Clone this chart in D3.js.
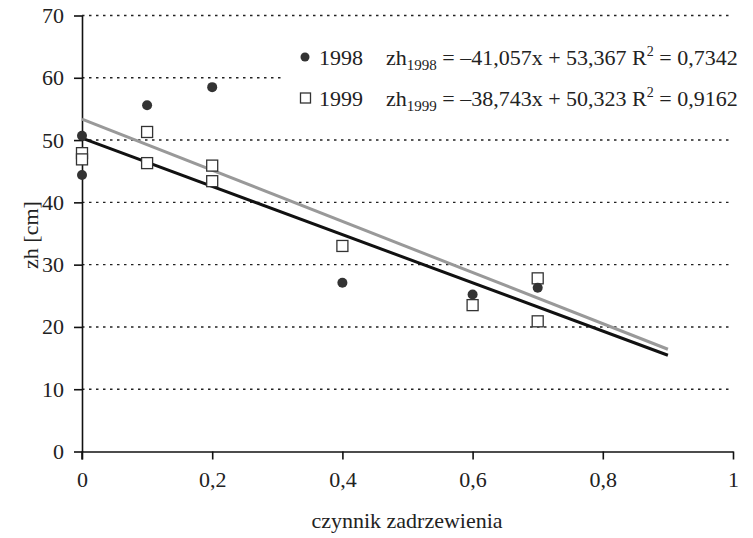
<!DOCTYPE html>
<html>
<head>
<meta charset="utf-8">
<script src="https://cdn.jsdelivr.net/npm/d3@7"></script>
<style>
  body { margin: 0; background: #fff; }
  svg text { font-family: "Liberation Serif", "Times New Roman", "DejaVu Serif", serif; }
</style>
</head>
<body>
<svg id="chart" width="753" height="538"></svg>
<script>
// points for 1998 (filled circles)
const x1998 = [0, 0, 0.1, 0.2, 0.4, 0.6, 0.7];
const y1998 = [50.7, 44.4, 55.6, 58.5, 27.1, 25.2, 26.3];
// points for 1999 (open squares)
const x1999 = [0, 0, 0.1, 0.1, 0.2, 0.2, 0.4, 0.6, 0.7, 0.7];
const y1999 = [47.9, 46.9, 51.3, 46.3, 45.9, 43.4, 33.0, 23.5, 27.8, 20.9];

// trend lines given in the legend
const trend1998 = { a: -41.057, b: 53.367 };
const trend1999 = { a: -38.743, b: 50.323 };
const trendRange = [0, 0.9];

const xTicks = [0, 0.2, 0.4, 0.6, 0.8, 1];
const yTicks = [0, 10, 20, 30, 40, 50, 60, 70];

const svg = d3.select("#chart");
const x = d3.scaleLinear().domain([0, 1]).range([82, 733]);
const y = d3.scaleLinear().domain([0, 70]).range([451.5, 15.5]);
const fmt = (d) => String(d).replace(".", ",");

// dotted grid
svg.append("g")
  .selectAll("line")
  .data(yTicks.filter((d) => d > 0))
  .enter()
  .append("line")
  .attr("x1", x(0))
  .attr("x2", x(1) - 4)
  .attr("y1", (d) => y(d))
  .attr("y2", (d) => y(d))
  .attr("stroke", "#222")
  .attr("stroke-width", 1.4)
  .attr("stroke-dasharray", "2.5,4.5");

// axes
const yAxis = svg.append("g")
  .attr("transform", `translate(${x(0)},0)`)
  .call(d3.axisLeft(y).tickValues(yTicks).tickSize(8).tickSizeOuter(0).tickPadding(10));
const xAxis = svg.append("g")
  .attr("transform", `translate(0,${y(0)})`)
  .call(d3.axisBottom(x).tickValues(xTicks).tickFormat(fmt).tickSize(8).tickSizeOuter(0).tickPadding(12));

[xAxis, yAxis].forEach((ax) => {
  ax.attr("font-family", null);
  ax.select(".domain").attr("stroke", "#111").attr("stroke-width", 1.6);
  ax.selectAll(".tick line").attr("stroke", "#111").attr("stroke-width", 1.6);
  ax.selectAll(".tick text")
    .attr("fill", "#222")
    .style("font-size", "22px");
});
// y axis continues a little below zero
svg.append("line")
  .attr("x1", x(0)).attr("x2", x(0))
  .attr("y1", y(0)).attr("y2", y(0) + 8)
  .attr("stroke", "#111").attr("stroke-width", 1.6);

// legend box (white, covers the grid)
const legend = svg.append("g");
legend.append("rect")
  .attr("x", 285).attr("y", 30).attr("width", 468).attr("height", 90)
  .attr("fill", "#fff");

// trend lines
function trendLine(t, color) {
  svg.append("line")
    .attr("x1", x(trendRange[0]))
    .attr("y1", y(t.a * trendRange[0] + t.b))
    .attr("x2", x(trendRange[1]))
    .attr("y2", y(t.a * trendRange[1] + t.b))
    .attr("stroke", color)
    .attr("stroke-width", 3);
}
trendLine(trend1998, "#999");
trendLine(trend1999, "#111");

// 1999 squares
svg.append("g")
  .selectAll("rect")
  .data(x1999.map((d, i) => [d, y1999[i]]))
  .enter()
  .append("rect")
  .attr("x", (d) => x(d[0]) - 5.5)
  .attr("y", (d) => y(d[1]) - 5.5)
  .attr("width", 11)
  .attr("height", 11)
  .attr("fill", "#fff")
  .attr("stroke", "#333")
  .attr("stroke-width", 1.3);

// 1998 circles
svg.append("g")
  .selectAll("circle")
  .data(x1998.map((d, i) => [d, y1998[i]]))
  .enter()
  .append("circle")
  .attr("cx", (d) => x(d[0]))
  .attr("cy", (d) => y(d[1]))
  .attr("r", 5)
  .attr("fill", "#333");

// legend entries
legend.append("circle").attr("cx", 305).attr("cy", 57).attr("r", 4.5).attr("fill", "#333");
legend.append("rect").attr("x", 300.5).attr("y", 93).attr("width", 10).attr("height", 10)
  .attr("fill", "#fff").attr("stroke", "#333").attr("stroke-width", 1.3);

function legendRow(yy, year, t, r2) {
  const txt = legend.append("text")
    .attr("y", yy)
    .attr("fill", "#222")
    .style("font-size", "22px");
  txt.append("tspan").attr("x", 319).text(year);
  txt.append("tspan").attr("x", 386).text("zh");
  txt.append("tspan").attr("dy", 5).style("font-size", "15px").text(year);
  txt.append("tspan").attr("dy", -5)
    .text(` = \u2013${fmt(Math.abs(t.a).toFixed(3))}x + ${fmt(t.b.toFixed(3))} R`);
  txt.append("tspan").attr("dy", -9).style("font-size", "14px").text("2");
  txt.append("tspan").attr("dy", 9).text(` = ${fmt(r2)}`);
}
legendRow(65, "1998", trend1998, "0.7342");
legendRow(106, "1999", trend1999, "0.9162");

// axis titles
svg.append("text")
  .attr("x", 407).attr("y", 528)
  .attr("text-anchor", "middle")
  .attr("fill", "#222")
  .style("font-size", "22px")
  .text("czynnik zadrzewienia");
svg.append("text")
  .attr("transform", "translate(38,235) rotate(-90)")
  .attr("text-anchor", "middle")
  .attr("fill", "#222")
  .style("font-size", "22px")
  .text("zh [cm]");
</script>
</body>
</html>
